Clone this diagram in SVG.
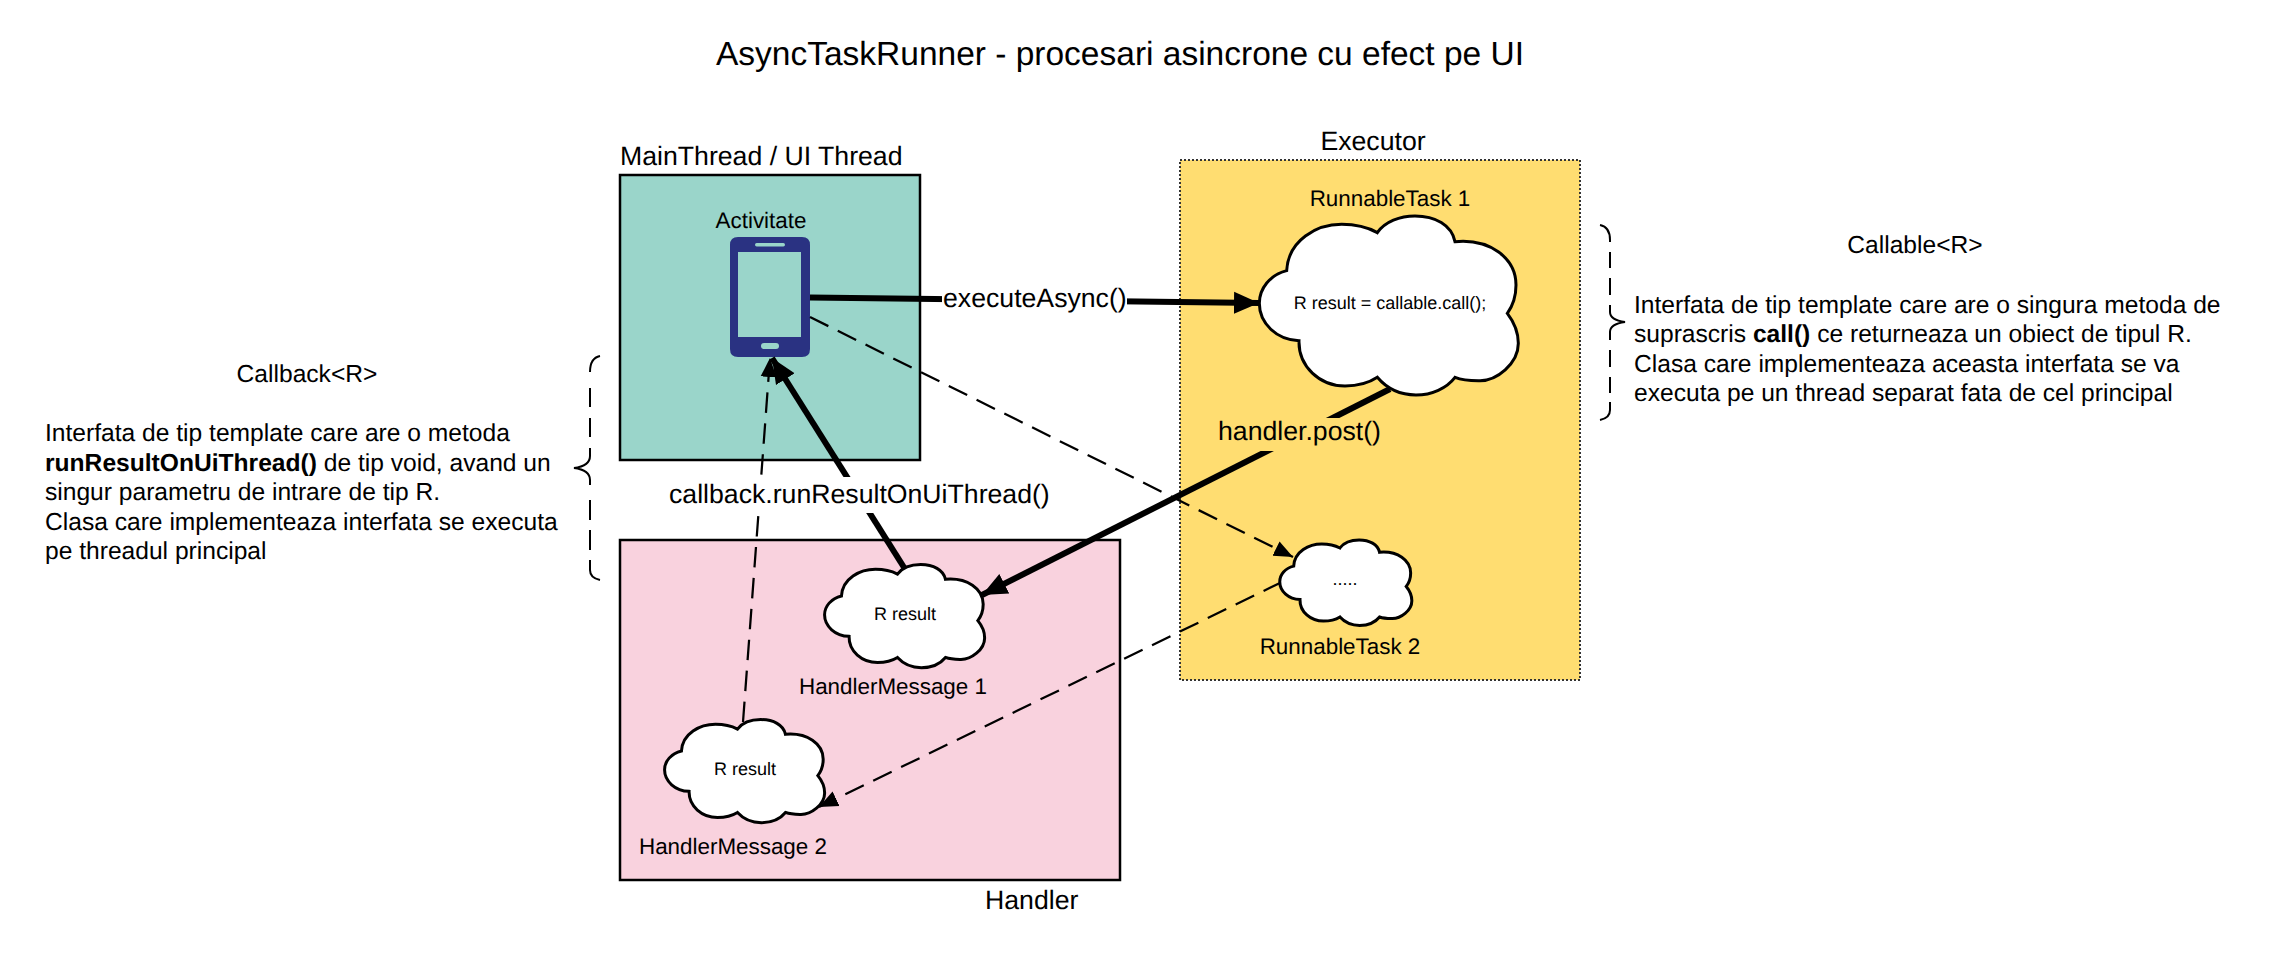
<svg xmlns="http://www.w3.org/2000/svg" width="2280" height="960" viewBox="0 0 2280 960">
<style>
text{font-family:"Liberation Sans",Arial,sans-serif;fill:#000;text-rendering:geometricPrecision}
.t33{font-size:33.5px}.t27{font-size:26.67px}.t22{font-size:22.4px}.t18{font-size:18px}.t24{font-size:24.6px}
.m{text-anchor:middle}
.thick{fill:none;stroke:#000;stroke-width:6}
.dash{fill:none;stroke:#000;stroke-width:2.25;stroke-dasharray:20.5 10.5}
.brace{fill:none;stroke:#000;stroke-width:2}
.cloud{fill:#fff;stroke:#000;stroke-width:3;vector-effect:non-scaling-stroke}
</style>
<defs>
<marker id="big" markerUnits="userSpaceOnUse" markerWidth="26" markerHeight="24" refX="25" refY="12" orient="auto"><path d="M0 1L25 12L0 23Z" fill="#000"/></marker>
<marker id="small" markerUnits="userSpaceOnUse" markerWidth="20" markerHeight="18" refX="19" refY="9" orient="auto"><path d="M0 1L19 9L0 17Z" fill="#000"/></marker>
<path id="cl" class="cloud" d="M410 422C415 330 500 283 575 283C620 283 655 293 682 308C705 275 750 258 795 258C855 258 905 285 915 335C1020 325 1098 385 1098 465C1098 495 1090 525 1072 550C1095 580 1105 610 1105 640C1105 700 1040 755 985 752C960 752 935 750 915 742C890 775 845 795 798 795C750 795 710 775 682 742C655 760 620 768 585 768C510 768 445 710 447 632C380 630 328 580 328 520C328 475 360 435 410 422Z"/>
</defs>
<rect width="2280" height="960" fill="#fff"/>
<text class="t33 m" x="1120" y="65">AsyncTaskRunner - procesari asincrone cu efect pe UI</text>
<g id="main-thread">
<rect x="620" y="175" width="300" height="285" fill="#9AD5CA" stroke="#000" stroke-width="2.5"/>
<text class="t27" x="620" y="165">MainThread / UI Thread</text>
</g>
<g id="executor">
<rect x="1180" y="160" width="400" height="520" fill="#FFDD71" stroke="#333" stroke-width="2" stroke-dasharray="2 2"/>
<text class="t27 m" x="1373" y="150">Executor</text>
</g>
<g id="handler">
<rect x="620" y="540" width="500" height="340" fill="#F9D2DE" stroke="#000" stroke-width="2.5"/>
<text class="t27" x="985" y="909">Handler</text>
</g>
<g id="activitate">
<text class="t22 m" x="761" y="228">Activitate</text>
<path fill="#2A3282" fill-rule="evenodd" d="M738 237H802Q810 237 810 245V349Q810 357 802 357H738Q730 357 730 349V245Q730 237 738 237ZM738 252V337H801V252Z"/>
<rect x="755" y="243" width="30" height="3.500" rx="1.700" fill="#9AD5CA"/>
<rect x="761" y="343" width="18" height="6" rx="3" fill="#9AD5CA"/>
</g>
<g id="connectors">
<path class="thick" marker-end="url(#big)" d="M810 297.500L1259 303"/>
<path class="thick" marker-end="url(#big)" d="M1390 389L982 595"/>
<path class="thick" marker-end="url(#big)" d="M905 569L772 358"/>
<path class="dash" marker-end="url(#small)" d="M810 317L1293 557"/>
<path class="dash" marker-end="url(#small)" d="M1282 582L819 807"/>
<path class="dash" marker-end="url(#small)" d="M743 722L770 358"/>
</g>
<g id="task1">
<use href="#cl" transform="translate(1150 130) scale(.33333)"/>
<text class="t22 m" x="1390" y="206">RunnableTask 1</text>
<text class="t18 m" x="1390" y="309">R result = callable.call();</text>
</g>
<g id="task2">
<use href="#cl" transform="translate(1224 499) scale(.1700 .1590)"/>
<text class="t18 m" x="1345" y="585">.....</text>
<text class="t22 m" x="1340" y="654">RunnableTask 2</text>
</g>
<g id="msg1">
<use href="#cl" transform="translate(757 515) scale(.2060 .1920)"/>
<text class="t18 m" x="905" y="620">R result</text>
<text class="t22" x="799" y="694">HandlerMessage 1</text>
</g>
<g id="msg2">
<use href="#cl" transform="translate(597 670) scale(.2060 .1920)"/>
<text class="t18 m" x="745" y="775">R result</text>
<text class="t22" x="639" y="854">HandlerMessage 2</text>
</g>
<g id="labels">
<rect x="942" y="280" width="185" height="38" fill="#fff"/>
<text class="t27" x="943" y="307">executeAsync()</text>
<rect x="669" y="477" width="383" height="36" fill="#fff"/>
<text class="t27" x="669" y="503">callback.runResultOnUiThread()</text>
<rect x="1217" y="418" width="165" height="33" fill="#FFDD71"/>
<text class="t27" x="1218" y="440">handler.post()</text>
</g>
<g id="callback-note">
<path class="brace" d="M600 356Q590 358 590 372M590 388V407M590 418V437M590 448V456Q590 466 574 468Q590 470 590 480V485M590 500V520M590 530V550M590 560V570Q590 578 600 580"/>
<text class="t24 m" x="307" y="382">Callback&lt;R&gt;</text>
<text class="t24" x="45" y="441">Interfata de tip template care are o metoda</text>
<text class="t24" x="45" y="471"><tspan font-weight="bold">runResultOnUiThread()</tspan> de tip void, avand un</text>
<text class="t24" x="45" y="500">singur parametru de intrare de tip R.</text>
<text class="t24" x="45" y="530">Clasa care implementeaza interfata se executa</text>
<text class="t24" x="45" y="559">pe threadul principal</text>
</g>
<g id="callable-note">
<path class="brace" d="M1600 225Q1610 227 1610 240V242M1610 252V268M1610 278V295M1610 305V312Q1610 320 1625 322Q1610 324 1610 332V340M1610 350V367M1610 377V393M1610 402V410Q1610 418 1600 420"/>
<text class="t24 m" x="1915" y="253">Callable&lt;R&gt;</text>
<text class="t24" x="1634" y="313">Interfata de tip template care are o singura metoda de</text>
<text class="t24" x="1634" y="342">suprascris <tspan font-weight="bold">call()</tspan> ce returneaza un obiect de tipul R.</text>
<text class="t24" x="1634" y="372">Clasa care implementeaza aceasta interfata se va</text>
<text class="t24" x="1634" y="401">executa pe un thread separat fata de cel principal</text>
</g>
</svg>
